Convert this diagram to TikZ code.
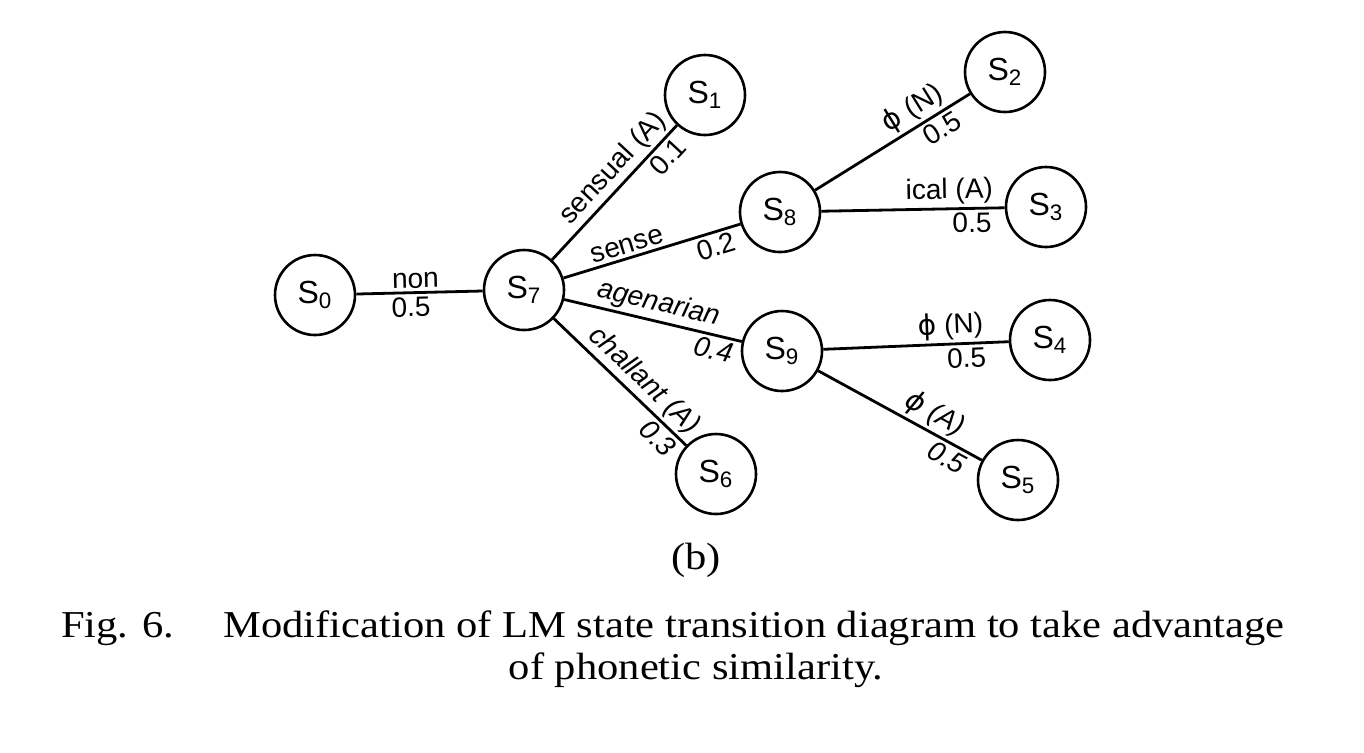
\documentclass[tikz,border=0pt]{standalone}
\usepackage{fontspec}
\newfontfamily\labfont{Liberation Sans}
\newfontfamily\phifont{DejaVu Sans}
\newfontfamily\capfont[FakeStretch=1.12]{Liberation Serif}
\newcommand{\myphi}{{\phifont ϕ}}
\begin{document}
\begin{tikzpicture}[x=0.5pt,y=-0.5pt,
  state/.style={circle, draw, line width=1.3pt, minimum size=40pt, inner sep=0pt,
    font=\labfont\fontsize{16}{18}\selectfont},
  edge/.style={line width=1.4pt},
  lbl/.style={font=\labfont\fontsize{14}{16}\selectfont, sloped, inner sep=1.5pt},
  ilbl/.style={lbl, font=\labfont\itshape\fontsize{14}{16}\selectfont},
  captext/.style={font=\capfont\fontsize{19}{21}\selectfont, inner sep=0pt}]
\useasboundingbox (0,0) rectangle (1364,752);
\node[state] (s0) at (315,295) {S\textsubscript{0}};
\node[state] (s7) at (524,290) {S\textsubscript{7}};
\node[state] (s1) at (705,95) {S\textsubscript{1}};
\node[state] (s8) at (780,212) {S\textsubscript{8}};
\node[state] (s2) at (1005,72) {S\textsubscript{2}};
\node[state] (s3) at (1046,207) {S\textsubscript{3}};
\node[state] (s9) at (782,351) {S\textsubscript{9}};
\node[state] (s4) at (1050,340) {S\textsubscript{4}};
\node[state] (s6) at (716,474) {S\textsubscript{6}};
\node[state] (s5) at (1018,480) {S\textsubscript{5}};

\draw[edge] (s0) -- node[lbl,above,pos=0.47] (l1) {non} node[lbl,below,pos=0.43] (l2) {0.5} (s7);
\draw[edge] (s7) -- node[lbl,above,pos=0.59] (l3) {sensual (A)} node[lbl,below,pos=0.84] (l4) {0.1} (s1);
\draw[edge] (s7) -- node[lbl,above,pos=0.38] (l5) {sense} node[lbl,below,pos=0.84] (l6) {0.2} (s8);
\draw[edge] (s7) -- node[ilbl,above,pos=0.51] (l7) {agenarian} node[ilbl,below,pos=0.86] (l8) {0.4} (s9);
\draw[edge] (s7) -- node[ilbl,above,pos=0.59] (l9) {challant (A)} node[ilbl,below,pos=0.86] (l10) {0.3} (s6);
\draw[edge] (s8) -- node[lbl,above,pos=0.69] (l11) {\myphi\ (N)} node[lbl,below,pos=0.77] (l12) {0.5} (s2);
\draw[edge] (s8) -- node[lbl,above,pos=0.70] (l13) {ical (A)} node[lbl,below,pos=0.82] (l14) {0.5} (s3);
\draw[edge] (s9) -- node[lbl,above,pos=0.69] (l15) {\myphi\ (N)} node[lbl,below,pos=0.77] (l16) {0.5} (s4);
\draw[edge] (s9) -- node[ilbl,above,pos=0.66] (l17) {\myphi\ (A)} node[ilbl,below,pos=0.83] (l18) {0.5} (s5);

\node[captext, anchor=base] (sub) at (696,569) {(b)};
\node[captext, anchor=base east] (fig) at (175,637) {Fig. 6.};
\node[captext, anchor=base west] (c1) at (223,637) {Modification of LM state transition diagram to take advantage};
\node[captext, anchor=base] (c2) at (696,679) {of phonetic similarity.};
\end{tikzpicture}
\end{document}
